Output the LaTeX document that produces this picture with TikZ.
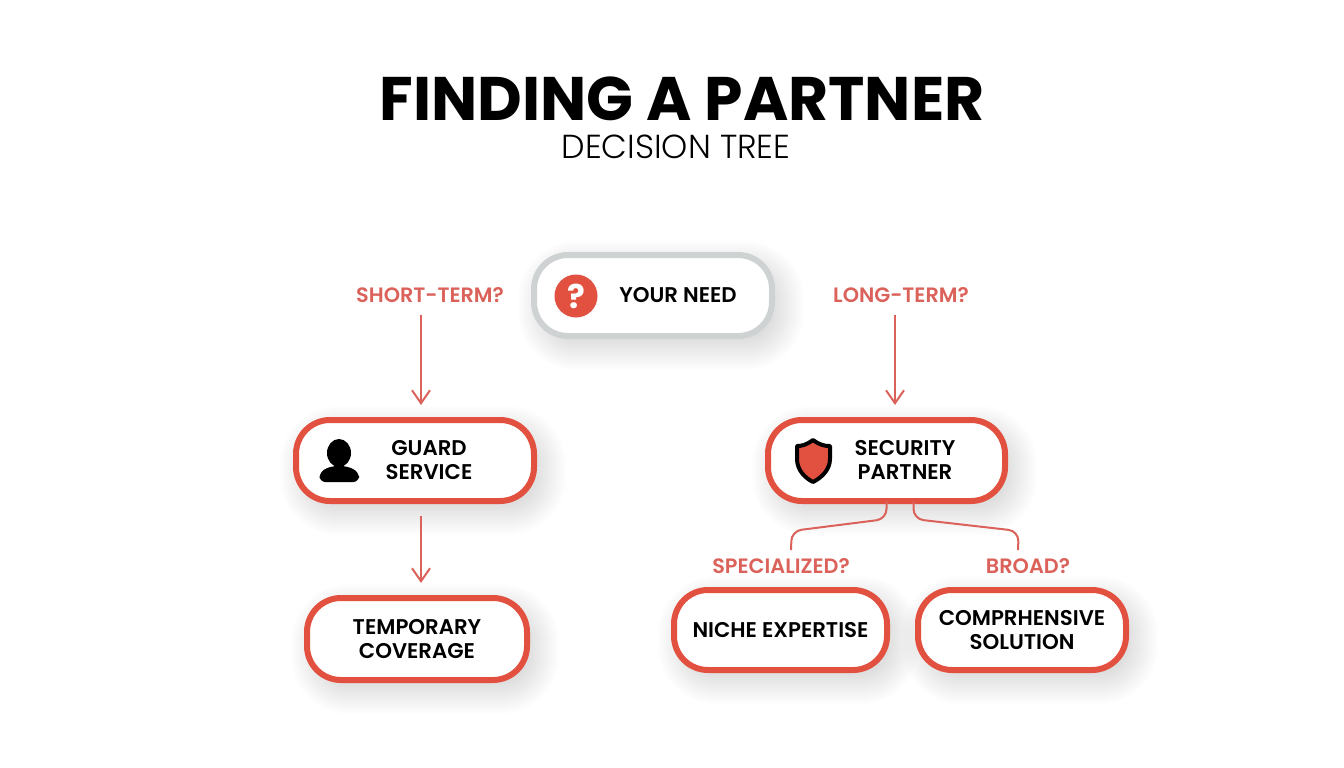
\documentclass[tikz,border=0pt]{standalone}
\usepackage{fontspec}
\setmainfont{Poppins}
\newfontfamily\headfont{Poppins}
\newfontfamily\lightfont{Poppins Light}
\newfontfamily\midfont{Poppins SemiBold}
\usetikzlibrary{arrows.meta,calc,backgrounds}
\definecolor{partnerred}{HTML}{E2513F}
\definecolor{asklabel}{HTML}{DB625A}
\definecolor{needgray}{HTML}{CFD2D3}
\tikzset{
    box/.style={draw=partnerred,line width=6pt,fill=white,rounded corners=34pt,outer sep=0pt,inner sep=0pt,align=center,font=\midfont\fontsize{21.3}{24}\selectfont},
    word/.style={inner sep=0pt,align=center,font=\midfont\fontsize{21.3}{24}\selectfont},
    ask/.style={inner sep=3pt,text=asklabel,font=\midfont\fontsize{20.8}{22}\selectfont},
    flow/.style={draw=asklabel,line width=2pt,-{Straight Barb[length=13pt,width=18pt,line width=2pt]}},
    branch/.style={draw=asklabel,line width=2pt,rounded corners=10pt},
}
\begin{document}
\begin{tikzpicture}[x=1pt,y=-1pt]
    \useasboundingbox(0,0)rectangle(1344,768);
    % heading
    \node[inner sep=0pt,text height=43pt,text depth=0pt](title)at(682,98.5){\headfont\bfseries\fontsize{61.5}{64}\selectfont FINDING A PARTNER};
    \node[inner sep=0pt,text height=23pt,text depth=0pt](subtitle)at(676,147){\lightfont\fontsize{33.3}{36}\selectfont DECISION TREE};
    % boxes
    \node[box,draw=needgray,minimum width=238pt,minimum height=81pt](need)at(653,295.5){};
    \node[box,minimum width=238pt,minimum height=81pt](guard)at(415,460.5){};
    \node[box,minimum width=237pt,minimum height=81pt](partner)at(886.5,460.5){};
    \node[box,minimum width=220pt,minimum height=82pt](temp)at(417,639){TEMPORARY\\COVERAGE};
    \node[box,minimum width=213pt,minimum height=80pt](niche)at(780.5,630){NICHE EXPERTISE};
    \node[box,minimum width=208pt,minimum height=80pt](comp)at(1022,630){COMPRHENSIVE\\SOLUTION};
    \node[word](needtxt)at(678,295){YOUR NEED};
    \node[word](guardtxt)at(429,460){GUARD\\SERVICE};
    \node[word](partnertxt)at(905,460){SECURITY\\PARTNER};
    % questions
    \node[ask](shortq)at(430,295){SHORT-TERM?};
    \node[ask](longq)at(901,295){LONG-TERM?};
    \node[ask](specq)at(781,566){SPECIALIZED?};
    \node[ask](broadq)at(1028,566){BROAD?};
    % icons
    \node[circle,fill=partnerred,minimum size=43pt,inner sep=0pt,text=white,font=\headfont\bfseries\fontsize{33}{33}\selectfont](mark)at(576,296){?};
    \fill[black](339,453)ellipse[x radius=12,y radius=14];
    \fill[black,rounded corners=6pt](319.5,482)--(319.5,472)--(331,466)--(347,466)--(359,472)--(359,482)--cycle;
    \draw[draw=black,fill=partnerred,line width=4pt,line join=round](813,440)..controls(806,445)and(802,446)..(797,446)--(797,459)..controls(797,470)and(805,478)..(813,482)..controls(821,478)and(830,470)..(830,459)--(830,446)..controls(824,446)and(820,445)..(813,440)--cycle;
    % connectors
    \draw[flow,shorten <=9pt,shorten >=15pt]([xshift=-9pt]shortq.south)--([xshift=6pt]guard.north);
    \draw[flow,shorten <=9pt,shorten >=15pt]([xshift=-6pt]longq.south)--([xshift=8.5pt]partner.north);
    \draw[flow,shorten <=15pt,shorten >=15pt]([xshift=6pt]guard.south)--([xshift=4pt]temp.north);
    \draw[branch,shorten >=5pt]([xshift=0pt]partner.south)--++(0,18)--++(-95,12)--(specq.north-|791,0);
    \draw[branch,shorten >=5pt]([xshift=27pt]partner.south)--++(0,18)--++(105,12)--(broadq.north-|1018,0);
    % soft shadows
    \begin{scope}[on background layer]
        \foreach \n in {need,guard,partner,temp,niche,comp}
            \foreach \s in {-14,-12,...,24}
                \fill[black,opacity=0.006,rounded corners={34pt+\s pt}]($(\n.north west)+(8-\s,10-\s)$)rectangle($(\n.south east)+(8+\s,10+\s)$);
    \end{scope}
\end{tikzpicture}
\end{document}
